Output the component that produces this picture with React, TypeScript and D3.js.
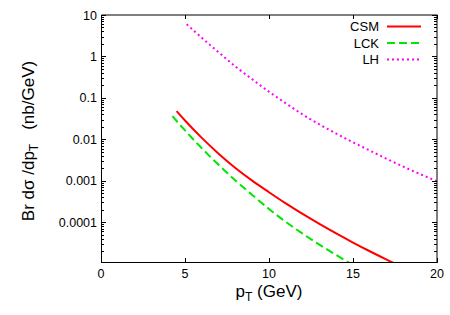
import React from 'react';
import * as d3 from 'd3';

// p_T (GeV) and Br dσ/dp_T (nb/GeV)
const csmPt = [4.5, 5, 6, 7, 8, 9, 10, 11, 12, 13, 14, 15, 16, 17, 18];
const csmVal = [0.0479, 0.0285, 0.01084, 0.00452, 0.00204, 0.00101, 5.31e-4, 2.85e-4, 1.585e-4, 9.12e-5, 5.37e-5, 3.24e-5, 2.0e-5, 1.26e-5, 8.13e-6];

const lckPt = [4.25, 5, 6, 7, 8, 9, 10, 11, 12, 13, 14, 15];
const lckVal = [0.0363, 0.0164, 0.0061, 0.00243, 0.00102, 4.57e-4, 2.09e-4, 1.02e-4, 5.31e-5, 2.88e-5, 1.62e-5, 9.3e-6];

const lhPt = [5.1, 6, 7, 8, 9, 10, 11, 12, 13, 14, 15, 16, 17, 18, 19, 20];
const lhVal = [5.97, 2.82, 1.26, 0.575, 0.282, 0.141, 0.0741, 0.0398, 0.0229, 0.0138, 0.00851, 0.00537, 0.00339, 0.00219, 0.00145, 0.000977];

const xTicks = [0, 5, 10, 15, 20];
const yTicks = [1e-4, 1e-3, 1e-2, 0.1, 1, 10];
const yTickLabels = ['0.0001', '0.001', '0.01', '0.1', '1', '10'];

const seriesNames = ['CSM', 'LCK', 'LH'];

const W = 450;
const H = 315;
const left = 101;
const right = 437;
const top = 15;
const bottom = 262;
const font = '"Liberation Sans", Arial, Helvetica, sans-serif';

export default function App() {
  const x = d3.scaleLinear().domain([0, 20]).range([left, right]);
  const y = d3.scaleLog().domain([1.1e-5, 10]).range([bottom, top]);

  const line = d3.line<[number, number]>()
    .x(d => x(d[0]))
    .y(d => y(d[1]))
    .curve(d3.curveMonotoneX);

  const series = [
    { name: seriesNames[0], pts: csmPt.map((p, i) => [p, csmVal[i]] as [number, number]), color: '#ff0000', dash: undefined },
    { name: seriesNames[1], pts: lckPt.map((p, i) => [p, lckVal[i]] as [number, number]), color: '#00e600', dash: '8,4' },
    { name: seriesNames[2], pts: lhPt.map((p, i) => [p, lhVal[i]] as [number, number]), color: '#ff00ff', dash: '2,3' },
  ];

  // minor ticks 2..9 in each decade inside the domain
  const minor: number[] = [];
  for (let e = -5; e <= 0; e++) {
    for (let m = 2; m <= 9; m++) {
      const v = m * Math.pow(10, e);
      if (v >= 1.1e-5 && v <= 10) minor.push(v);
    }
  }

  const px = (v: number) => Math.round(v) + 0.5;

  return (
    <svg width={W} height={H} style={{ position: 'absolute', left: 0, top: 0, background: '#fff' }} fontFamily={font}>
      <defs>
        <clipPath id="plotArea">
          <rect x={left} y={top} width={right - left} height={bottom - top + 0.5} />
        </clipPath>
      </defs>

      {/* curves */}
      <g clipPath="url(#plotArea)">
        {series.map(s => (
          <path key={s.name} d={line(s.pts) || ''} fill="none" stroke={s.color}
            strokeWidth={2} strokeDasharray={s.dash} />
        ))}
      </g>

      {/* ticks */}
      <g stroke="#000" strokeWidth={1}>
        {xTicks.map(t => (
          <g key={'xt' + t}>
            <line x1={px(x(t))} x2={px(x(t))} y1={bottom + 0.5} y2={bottom - 4} />
            <line x1={px(x(t))} x2={px(x(t))} y1={top} y2={top + 4} />
          </g>
        ))}
        {yTicks.map(t => (
          <g key={'yt' + t}>
            <line x1={left + 0.5} x2={left + 5} y1={px(y(t))} y2={px(y(t))} />
            <line x1={right} x2={right - 5} y1={px(y(t))} y2={px(y(t))} />
          </g>
        ))}
        {minor.map(t => (
          <g key={'ym' + t}>
            <line x1={left + 0.5} x2={left + 3} y1={px(y(t))} y2={px(y(t))} />
            <line x1={right} x2={right - 3} y1={px(y(t))} y2={px(y(t))} />
          </g>
        ))}
      </g>

      {/* border */}
      <g stroke="#000" strokeWidth={1} fill="none">
        <line x1={left + 0.5} x2={left + 0.5} y1={top} y2={bottom + 1} />
        <line x1={left} x2={right + 0.5} y1={bottom + 0.5} y2={bottom + 0.5} />
        <line x1={left + 0.5} x2={right + 0.5} y1={top} y2={top} />
        <line x1={right} x2={right} y1={top} y2={bottom + 1} />
      </g>

      {/* tick labels */}
      <g fontSize={12.5} fill="#000">
        {xTicks.map(t => (
          <text key={'xl' + t} x={x(t)} y={278} textAnchor="middle">{t}</text>
        ))}
        {yTicks.map((t, i) => (
          <text key={'yl' + t} x={97} y={y(t)} dy="0.36em" textAnchor="end">{yTickLabels[i]}</text>
        ))}
      </g>

      {/* axis titles */}
      <text x={(left + right) / 2} y={297} textAnchor="middle" fontSize={17}>
        p<tspan dy={4} fontSize={12}>T</tspan><tspan dy={-4}> (GeV)</tspan>
      </text>
      <text transform={`translate(34,141) rotate(-90)`} textAnchor="middle" fontSize={17}>
        Br dσ /dp<tspan dy={4} fontSize={12}>T</tspan><tspan dy={-4} dx={14}>(nb/GeV)</tspan>
      </text>

      {/* legend */}
      {series.map((s, i) => (
        <g key={'lg' + s.name}>
          <text x={379} y={31 + i * 16.5} textAnchor="end" fontSize={13}>{s.name}</text>
          <line x1={387} x2={421} y1={26.5 + i * 16.5} y2={26.5 + i * 16.5} stroke={s.color}
            strokeWidth={2} strokeDasharray={s.dash} />
        </g>
      ))}
    </svg>
  );
}
